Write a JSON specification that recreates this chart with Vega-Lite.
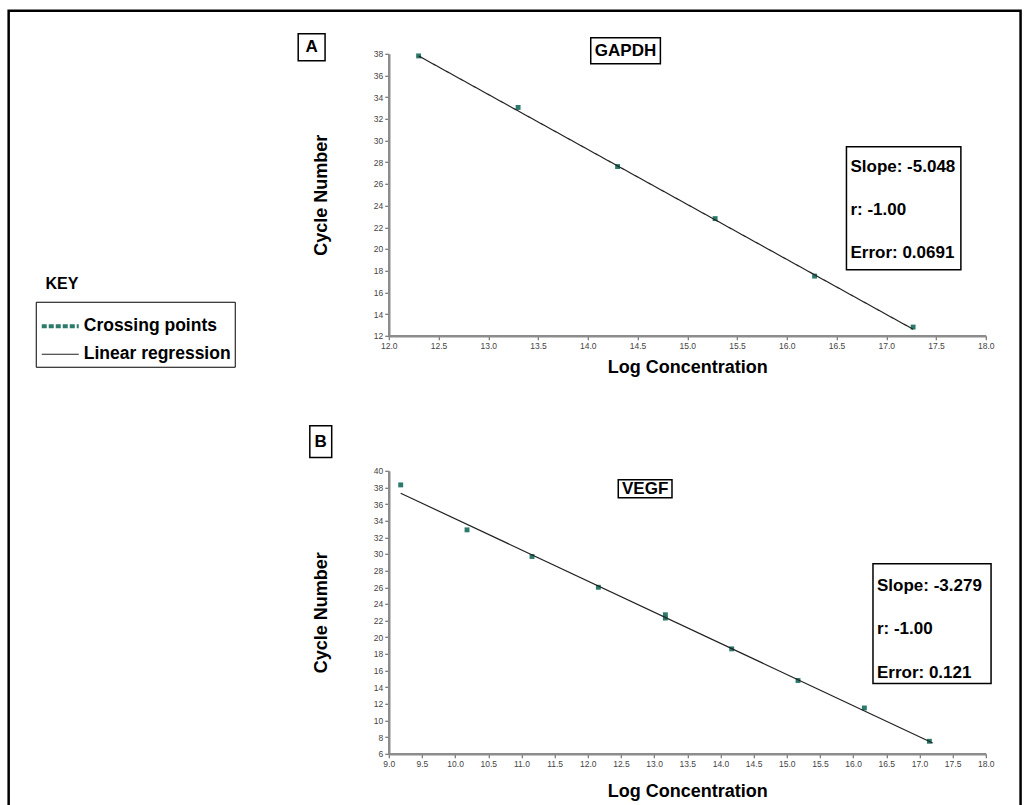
{
  "$schema": "https://vega.github.io/schema/vega-lite/v6.json",
  "autosize": {"type": "pad"},
  "padding": {"left": 6.75, "top": 8.75, "right": 3, "bottom": 0},
  "background": "white",
  "config": {
    "view": {"stroke": null},
    "font": "Liberation Sans",
    "axis": {
      "domainColor": "#8c8c8c", "domainWidth": 2.5,
      "tickColor": "#555", "tickSize": 4, "tickWidth": 1,
      "labelFontSize": 8.5, "labelColor": "#444", "labelFont": "Liberation Sans", "labelPadding": 2,
      "labelOverlap": false, "labelBound": false, "labelFlush": false,
      "titleFont": "Liberation Sans", "titleFontWeight": "bold", "titleFontSize": 18, "titleColor": "#000",
      "grid": false
    }
  },
  "datasets": {
    "frame": [{"x": 8.18, "x2": 18.35, "y": 41.96, "y2": -32}],
    "gapdh_points": [
      {"x": 12.3, "y": 37.8}, {"x": 13.3, "y": 33.05}, {"x": 14.3, "y": 27.6},
      {"x": 15.28, "y": 22.8}, {"x": 16.28, "y": 17.5}, {"x": 17.27, "y": 12.8}
    ],
    "gapdh_fit": [
      {"x": 12.3, "y": 37.8, "series": "Linear regression"},
      {"x": 17.27, "y": 12.6, "series": "Linear regression"}
    ],
    "top_boxes": [
      {"x": 11.09, "x2": 11.36, "y": 39.84, "y2": 37.35},
      {"x": 14.03, "x2": 14.73, "y": 39.47, "y2": 37.08},
      {"x": 16.6, "x2": 17.75, "y": 29.43, "y2": 18.09}
    ],
    "top_center_labels": [
      {"label": "A", "x": 11.225, "y": 38.6},
      {"label": "GAPDH", "x": 14.38, "y": 38.27}
    ],
    "top_stats": [
      {"label": "Slope: -5.048", "x": 16.64, "y": 27.6},
      {"label": "r: -1.00", "x": 16.64, "y": 23.6},
      {"label": "Error: 0.0691", "x": 16.64, "y": 19.6}
    ],
    "key_title": [{"label": "KEY", "x": 8.55, "y": 16.8}],
    "vegf_points": [
      {"x": 9.18, "y": 38.3}, {"x": 10.18, "y": 32.9}, {"x": 11.16, "y": 29.7},
      {"x": 12.16, "y": 26.0}, {"x": 13.17, "y": 22.7}, {"x": 13.17, "y": 22.3},
      {"x": 14.17, "y": 18.6}, {"x": 15.17, "y": 14.8}, {"x": 16.17, "y": 11.5},
      {"x": 17.15, "y": 7.5}
    ],
    "vegf_fit": [
      {"x": 9.18, "y": 37.3},
      {"x": 17.2, "y": 7.3}
    ],
    "bottom_boxes": [
      {"x": 7.81, "x2": 8.14, "y": 45.4, "y2": 41.6},
      {"x": 12.46, "x2": 13.27, "y": 38.92, "y2": 36.76},
      {"x": 16.3, "x2": 18.08, "y": 28.84, "y2": 14.43}
    ],
    "bottom_center_labels": [
      {"label": "B", "x": 7.975, "y": 43.5},
      {"label": "VEGF", "x": 12.865, "y": 37.84}
    ],
    "bottom_stats": [
      {"label": "Slope: -3.279", "x": 16.36, "y": 26.2},
      {"label": "r: -1.00", "x": 16.36, "y": 21.0},
      {"label": "Error: 0.121", "x": 16.36, "y": 15.75}
    ]
  },
  "bounds": "flush",
  "spacing": 135,
  "vconcat": [
    {
      "width": 597,
      "height": 282,
      "encoding": {
        "x": {
          "field": "x", "type": "quantitative",
          "scale": {"domain": [12, 18], "nice": false, "zero": false},
          "axis": {
            "values": [12, 12.5, 13, 13.5, 14, 14.5, 15, 15.5, 16, 16.5, 17, 17.5, 18],
            "format": ".1f", "title": "Log Concentration", "titleY": 32, "titleBaseline": "middle"
          }
        },
        "y": {
          "field": "y", "type": "quantitative",
          "scale": {"domain": [12, 38], "nice": false, "zero": false},
          "axis": {
            "values": [12, 14, 16, 18, 20, 22, 24, 26, 28, 30, 32, 34, 36, 38],
            "format": "d", "title": "Cycle Number", "titleX": -67, "titleBaseline": "middle"
          }
        }
      },
      "layer": [
        {
          "data": {"name": "gapdh_points"},
          "mark": {"type": "square", "size": 24, "filled": true, "color": "#2b7a6b", "opacity": 1}
        },
        {
          "data": {"name": "gapdh_fit"},
          "mark": {"type": "line"},
          "encoding": {
            "color": {
              "field": "series", "type": "nominal",
              "scale": {"domain": ["Crossing points", "Linear regression"], "range": ["#2b7a6b", "#222222"]},
              "legend": {
                "orient": "none", "legendX": -353, "legendY": 248, "title": null,
                "symbolType": "stroke", "symbolSize": 1369,
                "labelFontSize": 17.5, "labelFontWeight": "bold", "labelColor": "#000", "labelFont": "Liberation Sans",
                "strokeColor": "#000", "padding": 4, "rowPadding": -8, "labelOffset": 3
              }
            },
            "strokeDash": {
              "field": "series", "type": "nominal",
              "scale": {"domain": ["Crossing points", "Linear regression"], "range": [[5, 2], [1, 0]]},
              "legend": {
                "orient": "none", "legendX": -353, "legendY": 248, "title": null,
                "symbolType": "stroke", "symbolSize": 1369,
                "labelFontSize": 17.5, "labelFontWeight": "bold", "labelColor": "#000", "labelFont": "Liberation Sans",
                "strokeColor": "#000", "padding": 4, "rowPadding": -8, "labelOffset": 3
              }
            },
            "strokeWidth": {
              "field": "series", "type": "ordinal",
              "scale": {"domain": ["Crossing points", "Linear regression"], "range": [4, 1.2]},
              "legend": {
                "orient": "none", "legendX": -353, "legendY": 248, "title": null,
                "symbolType": "stroke", "symbolSize": 1369,
                "labelFontSize": 17.5, "labelFontWeight": "bold", "labelColor": "#000", "labelFont": "Liberation Sans",
                "strokeColor": "#000", "padding": 4, "rowPadding": -8, "labelOffset": 3
              }
            }
          }
        },
        {
          "data": {"name": "top_boxes"},
          "mark": {"type": "rect", "filled": false, "color": "#000", "strokeWidth": 1.5},
          "encoding": {
            "x2": {"field": "x2"},
            "y2": {"field": "y2"}
          }
        },
        {
          "data": {"name": "frame"},
          "mark": {"type": "rect", "filled": false, "color": "#000", "strokeWidth": 2.5},
          "encoding": {
            "x2": {"field": "x2"},
            "y2": {"field": "y2"}
          }
        },
        {
          "data": {"name": "top_center_labels"},
          "mark": {"type": "text", "align": "center", "baseline": "middle", "fontSize": 17, "fontWeight": "bold", "color": "#000"},
          "encoding": {"text": {"field": "label"}}
        },
        {
          "data": {"name": "top_stats"},
          "mark": {"type": "text", "align": "left", "baseline": "middle", "fontSize": 17, "fontWeight": "bold", "color": "#000"},
          "encoding": {"text": {"field": "label"}}
        },
        {
          "data": {"name": "key_title"},
          "mark": {"type": "text", "align": "left", "baseline": "middle", "fontSize": 16, "fontWeight": "bold", "color": "#000"},
          "encoding": {"text": {"field": "label"}}
        }
      ]
    },
    {
      "width": 597,
      "height": 283,
      "encoding": {
        "x": {
          "field": "x", "type": "quantitative",
          "scale": {"domain": [9, 18], "nice": false, "zero": false},
          "axis": {
            "values": [9, 9.5, 10, 10.5, 11, 11.5, 12, 12.5, 13, 13.5, 14, 14.5, 15, 15.5, 16, 16.5, 17, 17.5, 18],
            "format": ".1f", "title": "Log Concentration", "titleY": 38, "titleBaseline": "middle"
          }
        },
        "y": {
          "field": "y", "type": "quantitative",
          "scale": {"domain": [6, 40], "nice": false, "zero": false},
          "axis": {
            "values": [6, 8, 10, 12, 14, 16, 18, 20, 22, 24, 26, 28, 30, 32, 34, 36, 38, 40],
            "format": "d", "title": "Cycle Number", "titleX": -67, "titleBaseline": "middle"
          }
        }
      },
      "layer": [
        {
          "data": {"name": "vegf_points"},
          "mark": {"type": "square", "size": 24, "filled": true, "color": "#2b7a6b", "opacity": 1}
        },
        {
          "data": {"name": "vegf_fit"},
          "mark": {"type": "line", "color": "#222222", "strokeWidth": 1.2}
        },
        {
          "data": {"name": "bottom_boxes"},
          "mark": {"type": "rect", "filled": false, "color": "#000", "strokeWidth": 1.5},
          "encoding": {
            "x2": {"field": "x2"},
            "y2": {"field": "y2"}
          }
        },
        {
          "data": {"name": "bottom_center_labels"},
          "mark": {"type": "text", "align": "center", "baseline": "middle", "fontSize": 17, "fontWeight": "bold", "color": "#000"},
          "encoding": {"text": {"field": "label"}}
        },
        {
          "data": {"name": "bottom_stats"},
          "mark": {"type": "text", "align": "left", "baseline": "middle", "fontSize": 17, "fontWeight": "bold", "color": "#000"},
          "encoding": {"text": {"field": "label"}}
        }
      ]
    }
  ]
}
